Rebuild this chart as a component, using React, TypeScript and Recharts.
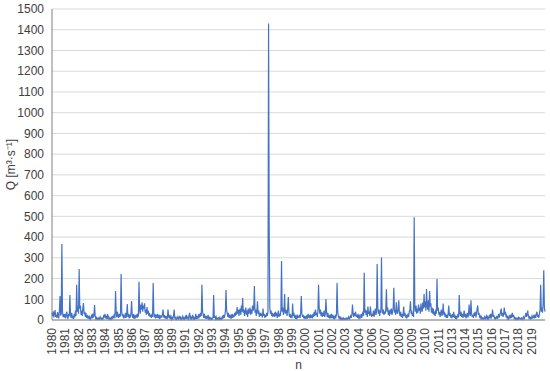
import { LineChart, Line, XAxis, YAxis, CartesianGrid } from "recharts";

// discharge readings, 20 samples per year
const flow1980s = [
  35, 18, 42, 12, 30, 48, 15, 25, 10, 38, 20, 8, 45, 116, 22, 30, 367, 40, 14, 28,
  12, 30, 8, 22, 40, 15, 6, 28, 18, 120, 25, 10, 35, 8, 20, 5, 30, 12, 45, 20,
  170, 40, 65, 30, 246, 55, 70, 25, 45, 20, 60, 82, 28, 40, 15, 35, 10, 25, 8, 20,
  5, 15, 3, 10, 20, 8, 30, 12, 25, 72, 18, 6, 12, 4, 8, 3, 10, 5, 15, 6,
  4, 10, 3, 8, 25, 12, 30, 8, 20, 5, 28, 10, 15, 4, 8, 3, 12, 6, 20, 10,
  15, 30, 8, 140, 35, 12, 40, 20, 10, 30, 15, 25, 222, 40, 18, 30, 8, 22, 12, 35,
  10, 25, 77, 15, 30, 8, 20, 12, 35, 91, 20, 10, 28, 5, 18, 8, 25, 12, 30, 15,
  20, 184, 45, 30, 75, 50, 85, 40, 70, 55, 80, 35, 50, 25, 62, 30, 45, 20, 35, 15,
  25, 10, 30, 15, 178, 35, 12, 28, 8, 20, 15, 30, 10, 25, 5, 18, 8, 22, 12, 30,
  50, 12, 25, 8, 20, 5, 15, 10, 50, 18, 8, 25, 5, 15, 3, 12, 6, 20, 50, 10,
];
const flow1990s = [
  5, 12, 3, 8, 15, 4, 10, 20, 6, 12, 3, 8, 18, 5, 10, 4, 15, 6, 25, 8,
  12, 5, 20, 35, 8, 15, 4, 10, 25, 6, 12, 3, 8, 30, 5, 15, 10, 20, 8, 30,
  15, 35, 20, 170, 40, 25, 10, 30, 8, 20, 5, 15, 10, 25, 6, 12, 4, 10, 3, 8,
  5, 12, 120, 10, 20, 6, 15, 4, 8, 3, 10, 5, 12, 3, 8, 4, 15, 6, 25, 10,
  20, 40, 145, 50, 30, 15, 35, 10, 25, 8, 20, 12, 30, 10, 25, 15, 35, 20, 40, 25,
  62, 30, 50, 20, 45, 55, 25, 70, 40, 106, 35, 50, 20, 40, 60, 25, 45, 15, 55, 30,
  40, 60, 25, 50, 30, 70, 45, 55, 164, 35, 50, 20, 40, 90, 30, 45, 15, 35, 20, 30,
  25, 12, 55, 20, 30, 10, 25, 15, 35, 20, 40, 1430, 440, 60, 30, 45, 20, 35, 15, 25,
  30, 15, 40, 20, 35, 10, 25, 45, 15, 30, 20, 50, 285, 40, 60, 25, 45, 125, 30, 50,
  40, 20, 55, 111, 35, 15, 30, 10, 25, 8, 80, 20, 35, 10, 25, 5, 18, 8, 20, 12,
];
const flow2000s = [
  15, 25, 10, 35, 116, 30, 15, 25, 8, 20, 5, 15, 10, 22, 6, 30, 12, 25, 8, 20,
  10, 25, 8, 30, 15, 40, 20, 50, 25, 35, 15, 45, 170, 60, 30, 50, 20, 40, 15, 35,
  20, 45, 15, 30, 101, 40, 15, 35, 10, 25, 8, 20, 12, 30, 10, 25, 5, 15, 8, 20,
  12, 25, 178, 40, 20, 10, 15, 5, 12, 3, 8, 4, 10, 3, 6, 2, 8, 4, 10, 5,
  8, 15, 5, 12, 20, 10, 25, 75, 30, 15, 35, 20, 40, 15, 25, 10, 30, 12, 20, 8,
  15, 30, 10, 25, 40, 20, 228, 35, 50, 25, 45, 15, 65, 30, 40, 20, 65, 35, 15, 30,
  20, 45, 15, 35, 55, 25, 40, 270, 60, 30, 50, 20, 45, 35, 301, 55, 30, 50, 25, 40,
  30, 55, 148, 40, 60, 25, 45, 20, 50, 30, 55, 25, 40, 60, 155, 35, 50, 25, 85, 40,
  30, 50, 95, 35, 20, 40, 15, 30, 10, 25, 65, 20, 35, 12, 25, 8, 20, 30, 15, 40,
  50, 90, 30, 45, 20, 35, 15, 495, 60, 40, 70, 30, 55, 35, 75, 45, 60, 30, 80, 50,
];
const flow2010s = [
  40, 85, 55, 125, 60, 90, 45, 150, 70, 50, 95, 40, 140, 65, 80, 35, 60, 30, 55, 25,
  40, 20, 50, 30, 198, 45, 60, 25, 40, 15, 35, 50, 20, 30, 80, 25, 40, 15, 30, 10,
  25, 10, 30, 70, 20, 35, 12, 25, 8, 30, 15, 40, 10, 25, 5, 20, 8, 15, 30, 12,
  120, 35, 20, 40, 15, 30, 10, 25, 45, 15, 30, 8, 20, 35, 12, 25, 75, 30, 20, 95,
  30, 15, 25, 10, 35, 20, 40, 12, 30, 55, 70, 25, 35, 15, 20, 8, 15, 5, 10, 4,
  8, 15, 5, 12, 20, 6, 15, 4, 10, 25, 8, 30, 12, 20, 50, 15, 25, 8, 12, 5,
  10, 20, 5, 15, 30, 12, 25, 40, 55, 20, 35, 15, 30, 60, 25, 40, 12, 20, 8, 15,
  5, 12, 25, 8, 20, 10, 35, 15, 25, 8, 12, 4, 10, 5, 8, 3, 12, 6, 10, 4,
  6, 10, 3, 8, 15, 5, 12, 20, 35, 15, 25, 45, 20, 10, 15, 5, 12, 8, 20, 10,
  12, 25, 8, 20, 10, 30, 40, 15, 25, 10, 30, 50, 170, 40, 60, 35, 80, 240, 60, 40,
];

const tickLabels = [
  "1980", "1981", "1982", "1983", "1984", "1985", "1986", "1987", "1988", "1989",
  "1991", "1992", "1993", "1994", "1995", "1996", "1997", "1998", "1999", "2000",
  "2001", "2002", "2003", "2004", "2006", "2007", "2008", "2009", "2010", "2011",
  "2013", "2014", "2015", "2016", "2017", "2018", "2019",
];
const yTicks = [0, 100, 200, 300, 400, 500, 600, 700, 800, 900, 1000, 1100, 1200, 1300, 1400, 1500];

const flow = [...flow1980s, ...flow1990s, ...flow2000s, ...flow2010s];
const data = flow.map((q, i) => ({ i, q }));
const lastIdx = flow.length - 1;
// category labels fall a bit more than a year apart
const tickStep = 21.6;
const xTicks = tickLabels.map((_, k) => k * tickStep);

const FONT = "'Liberation Sans', Arial, sans-serif";

function XTick({ x, y, payload }: any) {
  const k = Math.round(payload.value / tickStep);
  return (
    <text
      x={x}
      y={y}
      transform={`rotate(-90, ${x}, ${y})`}
      textAnchor="end"
      dy={4}
      fontSize={12}
      fontFamily={FONT}
      fill="#404040"
    >
      {tickLabels[k]}
    </text>
  );
}

export default function App() {
  return (
    <div style={{ position: "absolute", left: 0, top: 0 }}>
      <LineChart
        width={550}
        height={371}
        data={data}
        margin={{ top: 9, right: 5, left: 0, bottom: 0 }}
      >
        <CartesianGrid vertical={false} stroke="#d9d9d9" />
        <XAxis
          dataKey="i"
          type="number"
          domain={[0, lastIdx]}
          ticks={xTicks}
          interval={0}
          height={51}
          tick={<XTick />}
          tickLine={false}
          axisLine={{ stroke: "#808080" }}
          label={{ value: "n", position: "insideBottom", offset: 2, fontSize: 12, fontFamily: FONT, fill: "#404040" }}
        />
        <XAxis xAxisId="top" orientation="top" dataKey="i" type="number" domain={[0, lastIdx]} height={0} tick={false} tickLine={false} axisLine={{ stroke: "#808080" }} />
        <YAxis
          domain={[0, 1500]}
          ticks={yTicks}
          interval={0}
          width={52}
          tickLine={false}
          axisLine={{ stroke: "#808080" }}
          tick={{ fontSize: 12, fontFamily: FONT, fill: "#404040" }}
          label={{ value: "Q [m³·s⁻¹]", angle: -90, position: "insideLeft", offset: 11, fontSize: 12, fontFamily: FONT, fill: "#404040", style: { textAnchor: "middle" } }}
        />
        <YAxis yAxisId="right" orientation="right" domain={[0, 1500]} width={0} tick={false} tickLine={false} axisLine={{ stroke: "#808080" }} />
        <Line
          type="linear"
          dataKey="q"
          stroke="#4472c4"
          strokeWidth={1.2}
          dot={false}
          isAnimationActive={false}
        />
      </LineChart>
    </div>
  );
}
